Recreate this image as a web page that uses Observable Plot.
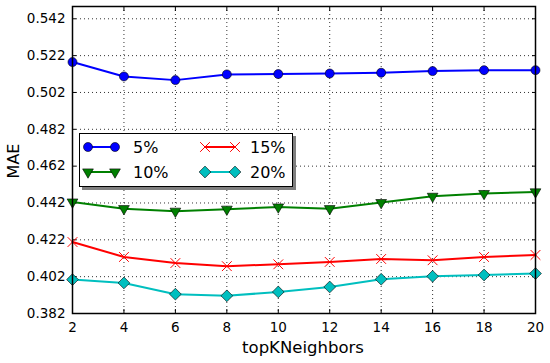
<!DOCTYPE html>
<html>
<head>
<meta charset="utf-8">
<script src="https://cdn.jsdelivr.net/npm/d3@7"></script>
<script src="https://cdn.jsdelivr.net/npm/@observablehq/plot@0.6"></script>
<style>
  body { margin: 0; background: #fff; font-family: "DejaVu Sans", sans-serif; }
  #wrap { position: relative; width: 550px; height: 363px; }
  #legend { position: absolute; left: 79px; top: 133px; width: 214px; height: 54px;
            background: #fff; border: 1px solid #000; box-shadow: 3px 3px 0 #7f7f7f; box-sizing: border-box; }
</style>
</head>
<body>
<div id="wrap"></div>
<script>
const topK = [2, 4, 6, 8, 10, 12, 14, 16, 18, 20];
const mae5  = [0.5185, 0.5107, 0.5087, 0.5118, 0.5120, 0.5123, 0.5127, 0.5136, 0.5141, 0.5141];
const mae10 = [0.4425, 0.4389, 0.4375, 0.4386, 0.4398, 0.4389, 0.4422, 0.4456, 0.4471, 0.4480];
const mae15 = [0.4208, 0.4127, 0.4094, 0.4077, 0.4087, 0.4100, 0.4116, 0.4109, 0.4127, 0.4138];
const mae20 = [0.4004, 0.3986, 0.3925, 0.3916, 0.3937, 0.3964, 0.4006, 0.4022, 0.4029, 0.4037];
const seriesNames = ["5%", "10%", "15%", "20%"];
const yTicks = [0.382, 0.402, 0.422, 0.442, 0.462, 0.482, 0.502, 0.522, 0.542];
const xTicks = [2, 4, 6, 8, 10, 12, 14, 16, 18, 20];

const styles = {
  "5%":  {color: "#0000ff", symbol: "circle", r: 4.5, fill: "#0000ff", stroke: "#000", sw: 0.6, rotate: 0},
  "10%": {color: "#008000", symbol: "triangle", r: 4, fill: "#008000", stroke: "#000", sw: 0.6, rotate: 180},
  "15%": {color: "#ff0000", symbol: "times", r: 4.5, fill: "none", stroke: "#ff0000", sw: 1, rotate: 0},
  "20%": {color: "#00bfbf", symbol: "diamond2", r: 5.3, fill: "#00bfbf", stroke: "#000", sw: 0.6, rotate: 0}
};
const allVals = [mae5, mae10, mae15, mae20];
const data = [];
seriesNames.forEach((s, i) => topK.forEach((k, j) => data.push({k, mae: allVals[i][j], s})));

const blank = () => "";
const marks = [
  Plot.gridX(xTicks, {stroke: "#000", strokeOpacity: 0.8, strokeDasharray: "1,3"}),
  Plot.gridY(yTicks, {stroke: "#000", strokeOpacity: 0.8, strokeDasharray: "1,3"}),
  Plot.axisX(xTicks, {anchor: "bottom", tickSize: 0, tickPadding: 9, fontSize: 13.5, label: null}),
  Plot.axisY(yTicks, {anchor: "left", tickSize: 0, tickPadding: 7, fontSize: 13.5, tickFormat: d3.format(".3f"), label: null}),
  Plot.axisX(xTicks, {anchor: "bottom", tickSize: 4, dy: -4, tickFormat: blank, label: null}),
  Plot.axisX(xTicks, {anchor: "top", tickSize: 4, dy: 4, tickFormat: blank, label: null}),
  Plot.axisY(yTicks, {anchor: "left", tickSize: 4, dx: 4, tickFormat: blank, label: null}),
  Plot.axisY(yTicks, {anchor: "right", tickSize: 4, dx: -4, tickFormat: blank, label: null}),
];
seriesNames.forEach(s => {
  const st = styles[s];
  const d = data.filter(r => r.s === s);
  marks.push(Plot.line(d, {x: "k", y: "mae", stroke: st.color, strokeWidth: 2}));
  marks.push(Plot.dot(d, {x: "k", y: "mae", symbol: st.symbol, r: st.r, fill: st.fill,
    stroke: st.stroke, strokeWidth: st.sw, rotate: st.rotate}));
});
marks.push(Plot.frame({stroke: "#000", strokeWidth: 1.5}));

const chart = Plot.plot({
  width: 550, height: 363,
  marginLeft: 72, marginRight: 15, marginTop: 6, marginBottom: 50,
  style: {fontFamily: "DejaVu Sans, sans-serif", background: "#fff", color: "#000"},
  x: {domain: [2, 20]},
  y: {domain: [0.382, 0.54867]},
  marks
});
document.getElementById("wrap").appendChild(chart);

// axis titles
const svg = d3.select(chart);
svg.append("text").attr("x", 303).attr("y", 353).attr("text-anchor", "middle")
  .attr("font-size", 16.5).attr("fill", "#000").text("topKNeighbors");
svg.append("text").attr("transform", "translate(19,161) rotate(-90)").attr("text-anchor", "middle")
  .attr("font-size", 16).attr("fill", "#000").text("MAE");

// legend
const leg = document.createElement("div");
leg.id = "legend";
document.getElementById("wrap").appendChild(leg);
const ls = d3.select(leg).append("svg").attr("width", 214).attr("height", 54)
  .style("position", "absolute").style("left", "-1px").style("top", "-1px");
const pos = [[9, 36, 54, 14], [9, 36, 54, 39], [126, 156, 171, 14], [126, 156, 171, 39]];
const typeMap = {circle: d3.symbolCircle, triangle: d3.symbolTriangle, times: d3.symbolTimes, diamond2: d3.symbolDiamond2};
seriesNames.forEach((s, i) => {
  const st = styles[s];
  const [x1, x2, tx, y] = pos[i];
  ls.append("line").attr("x1", x1).attr("x2", x2).attr("y1", y).attr("y2", y)
    .attr("stroke", st.color).attr("stroke-width", 2);
  const sym = d3.symbol(typeMap[st.symbol], Math.PI * st.r * st.r)();
  [x1, x2].forEach(x => {
    ls.append("path").attr("d", sym).attr("transform", `translate(${x},${y}) rotate(${st.rotate})`)
      .attr("fill", st.fill).attr("stroke", st.stroke).attr("stroke-width", st.sw);
  });
  ls.append("text").attr("x", tx).attr("y", y).attr("dy", "0.36em").attr("font-size", 16)
    .attr("fill", "#000").text(s);
});
</script>
</body>
</html>
